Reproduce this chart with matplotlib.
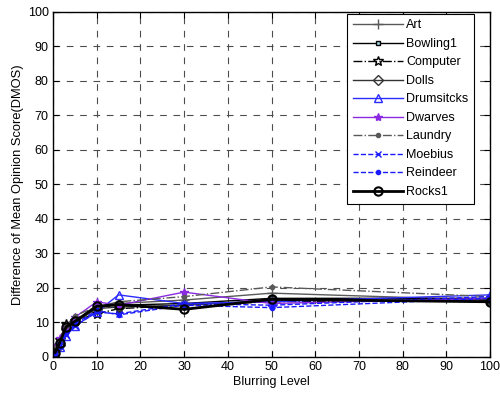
import matplotlib
matplotlib.use("Agg")
import matplotlib.pyplot as plt

plt.rcParams['font.family'] = ['Liberation Sans', 'DejaVu Sans']

# blurring levels and DMOS per sequence
blur = [0.5, 1.5, 3, 5, 10, 15, 30, 50, 100]
art = [2, 4, 8.5, 10.5, 14, 15.5, 16.5, 18.5, 16.5]
bowling1 = [1.5, 4.5, 8.5, 10, 14.5, 15, 15.5, 17, 17]
computer = [2.5, 5, 9.5, 10.5, 12.5, 14, 15, 16, 16.5]
dolls = [2, 3.5, 8, 10, 14, 14.5, 15, 16.5, 16.5]
drumsitcks = [1, 3, 6, 9, 13, 18, 15.5, 16, 18]
dwarves = [3, 5.5, 8.5, 11.5, 16, 15, 18.8, 15.5, 17]
laundry = [2.5, 5, 9, 12, 14.5, 16, 17.5, 20.3, 17.5]
moebius = [1.5, 3.5, 6.5, 9, 13, 12.5, 15.5, 15, 17.5]
reindeer = [1, 3, 7, 9.5, 13.5, 12.2, 15, 14.3, 17]
rocks1 = [1.3, 4.1, 8.7, 10.3, 14.7, 15.2, 13.8, 16.7, 16]

fig = plt.figure(figsize=(5, 3.96), dpi=100)
ax = fig.add_axes([0.106, 0.0985, 0.874, 0.8715])

fs = 9
ax.plot(blur, art, '-', color='0.35', marker='+', ms=7, lw=1, label='Art')
ax.plot(blur, bowling1, '-', color='black', marker='s', ms=3.5, mfc='#a0d8e8', lw=1, label='Bowling1')
ax.plot(blur, computer, '-.', color='black', marker='*', ms=7, mfc='none', lw=1, label='Computer')
ax.plot(blur, dolls, '-', color='0.2', marker='D', ms=5, mfc='none', lw=1, label='Dolls')
ax.plot(blur, drumsitcks, '-', color='#2b2bff', marker='^', ms=6, mfc='none', lw=1, label='Drumsitcks')
ax.plot(blur, dwarves, '-', color='#8a2be2', marker='*', ms=6, lw=1, label='Dwarves')
ax.plot(blur, laundry, '-.', color='0.35', marker='.', ms=6, lw=1, label='Laundry')
ax.plot(blur, moebius, '--', color='#1a1aff', marker='x', ms=4, lw=1, label='Moebius')
ax.plot(blur, reindeer, '--', color='#1a1aff', marker='.', ms=6, lw=1, label='Reindeer')
ax.plot(blur, rocks1, '-', color='black', marker='o', ms=6, mfc='none', mew=1.5, lw=2, label='Rocks1')

ax.set_xlim(0, 100)
ax.set_ylim(0, 100)
ax.set_xticks(range(0, 101, 10))
ax.set_yticks(range(0, 101, 10))
ax.tick_params(direction='in', top=True, right=True, labelsize=fs, length=4, width=0.8, pad=3)
ax.grid(True, color='0.3', linestyle=(0, (6, 6)), lw=0.8)
for s in ax.spines.values():
    s.set_linewidth(1)

ax.set_xlabel('Blurring Level', fontsize=fs, labelpad=2)
ax.set_ylabel('Difference of Mean Opinion Score(DMOS)', fontsize=9.3, labelpad=3)

leg = ax.legend(loc='upper left', bbox_to_anchor=(0.694, 0.965), bbox_transform=fig.transFigure,
                borderaxespad=0, fontsize=fs, frameon=True, fancybox=False, framealpha=1,
                handlelength=4, labelspacing=0.52, borderpad=0.45, handletextpad=0.3)
leg.get_frame().set_edgecolor('black')
leg.get_frame().set_linewidth(0.8)

fig.savefig('out.png', dpi=100)
